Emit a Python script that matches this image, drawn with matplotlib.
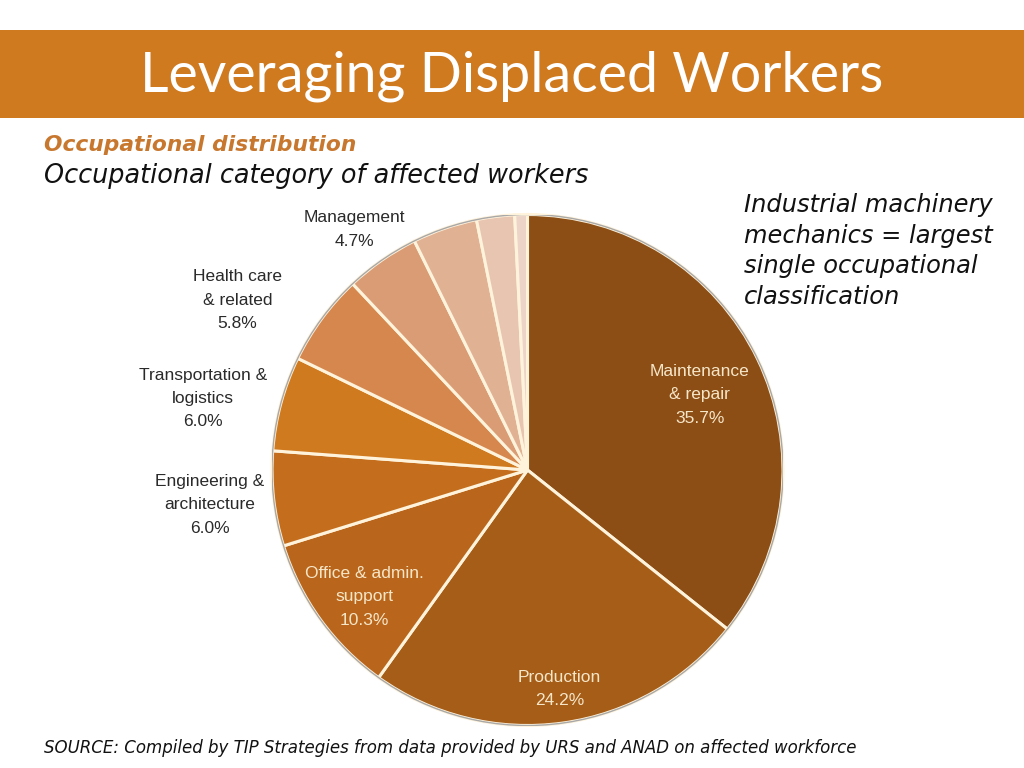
import numpy as np
import matplotlib.pyplot as plt
from matplotlib.patches import Rectangle, Circle

# occupational distribution, clockwise from 12 o'clock
labels = ["Maintenance\n& repair", "Production", "Office & admin.\nsupport",
          "Engineering &\narchitecture", "Transportation &\nlogistics",
          "Health care\n& related", "Management", "", "", ""]
shares = [35.7, 24.2, 10.3, 6.0, 6.0, 5.8, 4.7, 4.1, 2.4, 0.8]
colors = ["#8C4E15", "#A55D18", "#B9661C", "#C46E1D", "#D07A20",
          "#D5874E", "#DA9C74", "#E1B194", "#E8C5B1", "#ECD4C8"]
# label placement: distance in pie radii, clockwise nudge in degrees
label_dist = [0.736, 0.866, 0.81, 1.25, 1.30, 1.315, 1.16, 0, 0, 0]
label_nudge = [2.2, -0.4, -2.0, 0.2, -2.7, -6.0, -1.0, 0, 0, 0]

W, H = 1024, 768
fig = plt.figure(figsize=(W / 100, H / 100), dpi=100)
fig.patch.set_facecolor("white")
body = "DejaVu Sans"

# title band
fig.patches.append(Rectangle((0, 1 - 118 / H), 1, 88 / H, transform=fig.transFigure,
                             facecolor="#D07A20", edgecolor="none"))
fig.text(512 / W, 1 - 76 / H, "Leveraging Displaced Workers", color="white",
         fontsize=40, family="Lato", ha="center", va="center")

fig.text(44 / W, 1 - 145 / H, "Occupational distribution", color="#C8782E",
         fontsize=15.7, family=body, style="italic", weight="bold", va="center")
fig.text(44 / W, 1 - 176 / H, "Occupational category of affected workers", color="#111111",
         fontsize=18.4, family=body, style="italic", va="center")
fig.text(744 / W, 1 - 251 / H,
         "Industrial machinery\nmechanics = largest\nsingle occupational\nclassification",
         color="#111111", fontsize=17.4, family=body, style="italic", va="center",
         linespacing=1.36)
fig.text(44 / W, 1 - 748 / H,
         "SOURCE: Compiled by TIP Strategies from data provided by URS and ANAD on affected workforce",
         color="#111111", fontsize=11.95, family=body, style="italic", va="center")

# pie
cx, cy, r = 527.5, 470, 255.5
ax = fig.add_axes([(cx - r) / W, (H - cy - r) / H, 2 * r / W, 2 * r / H])
wedges, _ = ax.pie(shares, colors=colors, startangle=90, counterclock=False,
                   wedgeprops=dict(edgecolor="#FFF3DC", linewidth=2.2))
ax.add_patch(Circle((0, 0), 1.0, fill=False, edgecolor="#A8A8A8", linewidth=1.0))
ax.set_xlim(-1, 1)
ax.set_ylim(-1, 1)
ax.axis("off")

for w, lab, val, d, nudge in zip(wedges, labels, shares, label_dist, label_nudge):
    if not lab:
        continue
    mid = np.deg2rad((w.theta1 + w.theta2) / 2 - nudge)
    inside = d < 1
    ax.text(d * np.cos(mid), d * np.sin(mid), f"{lab}\n{val:.1f}%",
            ha="center", va="center", fontsize=12.5, family="Liberation Sans",
            color="#F6E6C8" if inside else "#2A2A2A", linespacing=1.7,
            clip_on=False)

fig.savefig("out.png", dpi=100)
